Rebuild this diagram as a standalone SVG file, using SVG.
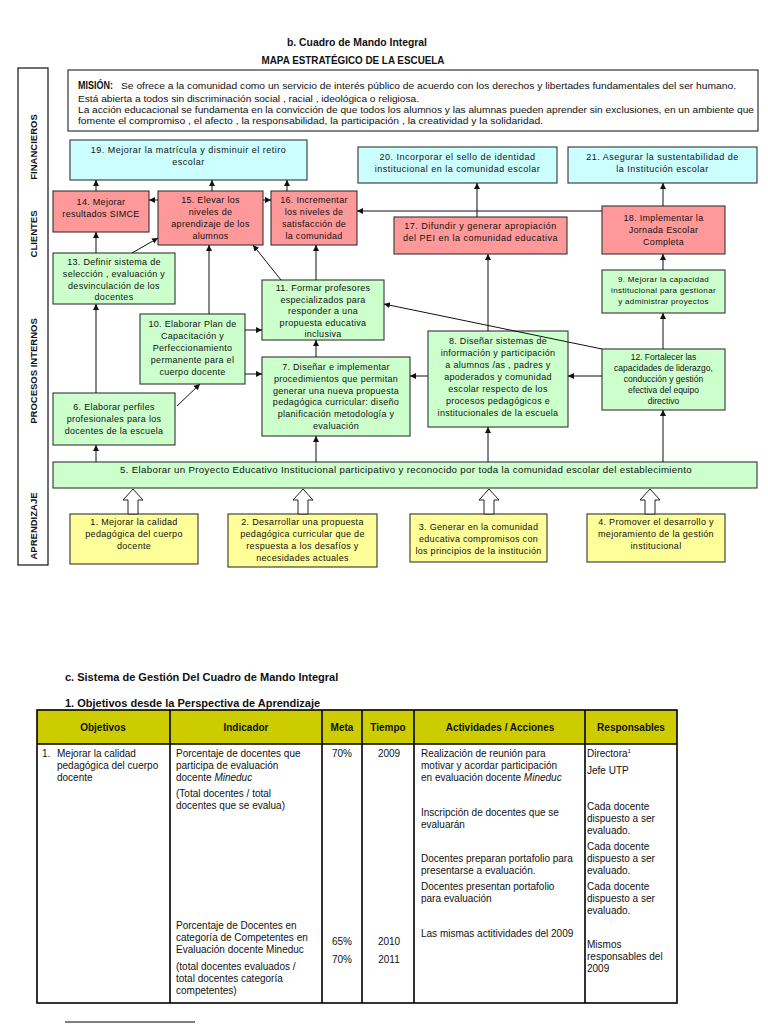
<svg xmlns="http://www.w3.org/2000/svg" width="768" height="1024" viewBox="0 0 768 1024">
<defs>
<style>
text{font-family:"Liberation Sans",Arial,sans-serif;fill:#111}
.t{font-size:9px;letter-spacing:0.3px;text-anchor:middle}
.w{letter-spacing:0.5px}
.s{font-size:8px;letter-spacing:0.35px;text-anchor:middle}
.u{font-size:8.5px;text-anchor:middle}
.h{font-weight:bold;font-size:11px;text-anchor:middle}
.lab{font-weight:bold;font-size:9.5px;text-anchor:middle}
.m{font-size:9.4px}
.tb{font-size:10px}
.th{font-size:10px;font-weight:bold;text-anchor:middle}
.bx{stroke:#333;stroke-width:1.1}
.cy{fill:#ccffff}
.pk{fill:#ff9999}
.gr{fill:#ccffcc}
.ye{fill:#ffff99}
.cn line{stroke:#111;stroke-width:1;marker-end:url(#ah)}
.ha{fill:#fff;stroke:#222;stroke-width:1}
.tl{stroke:#000;stroke-width:1.6;fill:none}
</style>
<marker id="ah" markerUnits="userSpaceOnUse" markerWidth="7" markerHeight="7" refX="6" refY="3" orient="auto">
<path d="M0,0 L6,3 L0,6 z" fill="#111"/>
</marker>
</defs>
<rect width="768" height="1024" fill="#fff"/>

<text class="h" x="357" y="46" textLength="140" lengthAdjust="spacingAndGlyphs">b. Cuadro de Mando Integral</text>
<text class="h" x="353" y="64" textLength="183" lengthAdjust="spacingAndGlyphs">MAPA ESTRATÉGICO DE LA ESCUELA</text>

<g id="perspectivas">
<rect x="18" y="68" width="30" height="497" fill="#fff" stroke="#111" stroke-width="1.2"/>
<text class="lab" transform="translate(37,147) rotate(-90)">FINANCIEROS</text>
<text class="lab" transform="translate(37,234) rotate(-90)">CLIENTES</text>
<text class="lab" transform="translate(37,371) rotate(-90)">PROCESOS INTERNOS</text>
<text class="lab" transform="translate(37,526) rotate(-90)">APRENDIZAJE</text>
</g>

<g id="mision">
<rect x="68" y="70" width="690" height="61" fill="#fff" stroke="#333" stroke-width="1.2"/>
<text x="78" y="89" font-weight="bold" font-size="11.5px" textLength="35" lengthAdjust="spacingAndGlyphs">MISIÓN:</text>
<text class="m" x="121" y="89" textLength="615" lengthAdjust="spacingAndGlyphs">Se ofrece a la comunidad como un servicio de interés público de acuerdo con los derechos y libertades fundamentales del ser humano.</text>
<text class="m" x="78" y="102" textLength="341" lengthAdjust="spacingAndGlyphs">Está abierta a todos sin discriminación social , racial , ideológica o religiosa.</text>
<text class="m" x="78" y="113" textLength="676" lengthAdjust="spacingAndGlyphs">La acción educacional se fundamenta en la convicción de que todos los alumnos y las alumnas pueden aprender sin exclusiones, en un ambiente que</text>
<text class="m" x="78" y="124" textLength="465" lengthAdjust="spacingAndGlyphs">fomente el compromiso , el afecto , la responsabilidad, la participación , la creatividad y la solidaridad.</text>
</g>

<g id="n19"><rect class="bx cy" x="70" y="140" width="237" height="40"/>
<text class="t w" x="188.5" y="153">19. Mejorar la matrícula y disminuir el retiro</text><text class="t w" x="188.5" y="165">escolar</text></g>
<g id="n20"><rect class="bx cy" x="358" y="147" width="199" height="36"/>
<text class="t w" x="457.5" y="160">20. Incorporar el sello de identidad</text><text class="t w" x="457.5" y="172">institucional en la comunidad escolar</text></g>
<g id="n21"><rect class="bx cy" x="568" y="147" width="189" height="36"/>
<text class="t w" x="662.5" y="160">21. Asegurar la sustentabilidad de</text><text class="t w" x="662.5" y="172">la Institución escolar</text></g>

<g id="n14"><rect class="bx pk" x="53" y="191" width="96" height="41"/>
<text class="t" x="101" y="205">14. Mejorar</text><text class="t" x="101" y="217">resultados SIMCE</text></g>
<g id="n15"><rect class="bx pk" x="158" y="191" width="105" height="54"/>
<text class="t" x="210.5" y="203">15. Elevar los</text><text class="t" x="210.5" y="215">niveles de</text><text class="t" x="210.5" y="227">aprendizaje de los</text><text class="t" x="210.5" y="239">alumnos</text></g>
<g id="n16"><rect class="bx pk" x="271" y="191" width="86" height="54"/>
<text class="t" x="314" y="203">16. Incrementar</text><text class="t" x="314" y="215">los niveles de</text><text class="t" x="314" y="227">satisfacción de</text><text class="t" x="314" y="239">la comunidad</text></g>
<g id="n17"><rect class="bx pk" x="394" y="217" width="173" height="37"/>
<text class="t w" x="480.5" y="229">17. Difundir y generar apropiación</text><text class="t w" x="480.5" y="241">del PEI en la comunidad educativa</text></g>
<g id="n18"><rect class="bx pk" x="602" y="206" width="123" height="48"/>
<text class="t" x="663.5" y="221">18. Implementar la</text><text class="t" x="663.5" y="233">Jornada Escolar</text><text class="t" x="663.5" y="245">Completa</text></g>

<g id="n13"><rect class="bx gr" x="53" y="253" width="122" height="51"/>
<text class="t" x="114" y="265">13. Definir sistema de</text><text class="t" x="114" y="277">selección , evaluación y</text><text class="t" x="114" y="289">desvinculación de los</text><text class="t" x="114" y="300">docentes</text></g>
<g id="n11"><rect class="bx gr" x="262" y="280" width="122" height="60"/>
<text class="t" x="323" y="291">11. Formar profesores</text><text class="t" x="323" y="302.5">especializados para</text><text class="t" x="323" y="314">responder a una</text><text class="t" x="323" y="325.5">propuesta educativa</text><text class="t" x="323" y="337">inclusiva</text></g>
<g id="n9"><rect class="bx gr" x="602" y="270" width="123" height="43"/>
<text class="s" x="663.5" y="282">9. Mejorar la capacidad</text><text class="s" x="663.5" y="293">institucional para gestionar</text><text class="s" x="663.5" y="304">y administrar proyectos</text></g>
<g id="n10"><rect class="bx gr" x="140" y="314" width="105" height="70"/>
<text class="t" x="192.5" y="327">10. Elaborar Plan de</text><text class="t" x="192.5" y="339">Capacitación y</text><text class="t" x="192.5" y="351">Perfeccionamiento</text><text class="t" x="192.5" y="363">permanente para el</text><text class="t" x="192.5" y="375">cuerpo docente</text></g>
<g id="n7"><rect class="bx gr" x="262" y="357" width="148" height="79"/>
<text class="t" x="336" y="370">7. Diseñar e implementar</text><text class="t" x="336" y="382">procedimientos que permitan</text><text class="t" x="336" y="393.5">generar una nueva propuesta</text><text class="t" x="336" y="405">pedagógica curricular: diseño</text><text class="t" x="336" y="417">planificación metodología y</text><text class="t" x="336" y="428.5">evaluación</text></g>
<g id="n8"><rect class="bx gr" x="428" y="331" width="140" height="96"/>
<text class="t" x="498" y="344">8. Diseñar sistemas de</text><text class="t" x="498" y="356">información y participación</text><text class="t" x="498" y="368">a alumnos /as , padres y</text><text class="t" x="498" y="380">apoderados y comunidad</text><text class="t" x="498" y="392">escolar respecto de los</text><text class="t" x="498" y="404">procesos pedagógicos e</text><text class="t" x="498" y="416">institucionales de la escuela</text></g>
<g id="n12"><rect class="bx gr" x="602" y="349" width="123" height="61"/>
<text class="u" x="663.5" y="360">12. Fortalecer las</text><text class="u" x="663.5" y="371">capacidades de liderazgo,</text><text class="u" x="663.5" y="382">conducción y gestión</text><text class="u" x="663.5" y="393">efectiva del equipo</text><text class="u" x="663.5" y="404">directivo</text></g>
<g id="n6"><rect class="bx gr" x="53" y="393" width="122" height="52"/>
<text class="t" x="114" y="410">6. Elaborar perfiles</text><text class="t" x="114" y="422">profesionales para los</text><text class="t" x="114" y="434">docentes de la escuela</text></g>
<g id="n5"><rect class="bx gr" x="53" y="462" width="704" height="26"/>
<text class="t" x="406" y="473" textLength="572" lengthAdjust="spacingAndGlyphs">5. Elaborar un Proyecto Educativo Institucional participativo y reconocido por toda la comunidad escolar del establecimiento</text></g>

<g id="n1"><rect class="bx ye" x="70" y="514" width="128" height="50"/>
<text class="t" x="134" y="525">1. Mejorar la calidad</text><text class="t" x="134" y="537">pedagógica del cuerpo</text><text class="t" x="134" y="549">docente</text></g>
<g id="n2"><rect class="bx ye" x="228" y="514" width="149" height="53"/>
<text class="t" x="302.5" y="525">2. Desarrollar una propuesta</text><text class="t" x="302.5" y="537">pedagógica curricular que de</text><text class="t" x="302.5" y="549">respuesta a los desafíos y</text><text class="t" x="302.5" y="561">necesidades actuales</text></g>
<g id="n3"><rect class="bx ye" x="410" y="514" width="137" height="48"/>
<text class="t" x="478.5" y="530">3. Generar en la comunidad</text><text class="t" x="478.5" y="542">educativa compromisos con</text><text class="t" x="478.5" y="554">los principios de la institución</text></g>
<g id="n4"><rect class="bx ye" x="587" y="514" width="138" height="48"/>
<text class="t" x="656" y="525">4. Promover el desarrollo y</text><text class="t" x="656" y="537">mejoramiento de la gestión</text><text class="t" x="656" y="549">institucional</text></g>

<g id="conectores" class="cn">
<line x1="96" y1="191" x2="96" y2="180"/>
<line x1="212" y1="191" x2="212" y2="180"/>
<line x1="287" y1="191" x2="287" y2="180"/>
<line x1="158" y1="200" x2="149" y2="200"/>
<line x1="263" y1="200" x2="271" y2="200"/>
<line x1="602" y1="211" x2="357" y2="211"/>
<line x1="477" y1="217" x2="477" y2="183"/>
<line x1="663" y1="206" x2="663" y2="183"/>
<line x1="96" y1="253" x2="96" y2="232"/>
<line x1="132" y1="253" x2="158" y2="238"/>
<line x1="209" y1="314" x2="209" y2="245"/>
<line x1="281" y1="280" x2="253" y2="245"/>
<line x1="316" y1="280" x2="316" y2="245"/>
<line x1="602" y1="349" x2="384" y2="304"/>
<line x1="488" y1="331" x2="488" y2="254"/>
<line x1="663" y1="270" x2="663" y2="254"/>
<line x1="663" y1="349" x2="663" y2="313"/>
<line x1="602" y1="376" x2="568" y2="376"/>
<line x1="428" y1="376" x2="410" y2="376"/>
<line x1="245" y1="330" x2="262" y2="330"/>
<line x1="245" y1="374" x2="262" y2="374"/>
<line x1="316" y1="357" x2="316" y2="340"/>
<line x1="96" y1="393" x2="96" y2="304"/>
<line x1="177" y1="406" x2="200" y2="384"/>
<line x1="96" y1="462" x2="96" y2="445"/>
<line x1="316" y1="462" x2="316" y2="436"/>
<line x1="488" y1="462" x2="488" y2="427"/>
<line x1="663" y1="462" x2="663" y2="410"/>
</g>
<g id="flechas-huecas">
<polygon class="ha" points="133,489 143,500 138,500 138,514 128,514 128,500 123,500"/>
<polygon class="ha" points="303,489 313,500 308,500 308,514 298,514 298,500 293,500"/>
<polygon class="ha" points="489,489 499,500 494,500 494,514 484,514 484,500 479,500"/>
<polygon class="ha" points="650,489 660,500 655,500 655,514 645,514 645,500 640,500"/>
</g>

<text class="h" x="65" y="681" style="text-anchor:start">c. Sistema de Gestión Del Cuadro de Mando Integral</text>
<text class="h" x="65" y="707" style="text-anchor:start">1. Objetivos desde la Perspectiva de Aprendizaje</text>

<g id="tabla">
<rect x="37" y="710" width="640" height="34" fill="#cccc00"/>
<rect class="tl" x="37" y="710" width="640" height="293"/>
<line class="tl" x1="37" y1="744" x2="677" y2="744"/>
<line class="tl" x1="170" y1="710" x2="170" y2="1003"/>
<line class="tl" x1="322" y1="710" x2="322" y2="1003"/>
<line class="tl" x1="362" y1="710" x2="362" y2="1003"/>
<line class="tl" x1="414" y1="710" x2="414" y2="1003"/>
<line class="tl" x1="585" y1="710" x2="585" y2="1003"/>
<text class="th" x="103" y="731">Objetivos</text>
<text class="th" x="246" y="731">Indicador</text>
<text class="th" x="342" y="731">Meta</text>
<text class="th" x="388" y="731">Tiempo</text>
<text class="th" x="500" y="731">Actividades / Acciones</text>
<text class="th" x="631" y="731">Responsables</text>

<text class="tb" x="42" y="757">1.</text>
<text class="tb" x="57" y="757">Mejorar la calidad</text>
<text class="tb" x="57" y="769">pedagógica del cuerpo</text>
<text class="tb" x="57" y="781">docente</text>

<text class="tb" x="176" y="757">Porcentaje de docentes que</text>
<text class="tb" x="176" y="769">participa de evaluación</text>
<text class="tb" x="176" y="781">docente <tspan font-style="italic">Mineduc</tspan></text>
<text class="tb" x="176" y="797">(Total docentes / total</text>
<text class="tb" x="176" y="809">docentes que se evalua)</text>
<text class="tb" x="176" y="929">Porcentaje de Docentes en</text>
<text class="tb" x="176" y="941">categoría de Competentes en</text>
<text class="tb" x="176" y="953">Evaluación docente Mineduc</text>
<text class="tb" x="176" y="970">(total docentes evaluados /</text>
<text class="tb" x="176" y="982">total docentes categoría</text>
<text class="tb" x="176" y="994">competentes)</text>

<text class="tb" x="342" y="757" text-anchor="middle">70%</text>
<text class="tb" x="342" y="945" text-anchor="middle">65%</text>
<text class="tb" x="342" y="963" text-anchor="middle">70%</text>
<text class="tb" x="389" y="757" text-anchor="middle">2009</text>
<text class="tb" x="389" y="945" text-anchor="middle">2010</text>
<text class="tb" x="389" y="963" text-anchor="middle">2011</text>

<text class="tb" x="421" y="757">Realización de reunión para</text>
<text class="tb" x="421" y="769">motivar y acordar participación</text>
<text class="tb" x="421" y="781">en evaluación docente <tspan font-style="italic">Mineduc</tspan></text>
<text class="tb" x="421" y="816">Inscripción de docentes que se</text>
<text class="tb" x="421" y="828">evaluarán</text>
<text class="tb" x="421" y="862">Docentes preparan portafolio para</text>
<text class="tb" x="421" y="874">presentarse a evaluación.</text>
<text class="tb" x="421" y="890">Docentes presentan portafolio</text>
<text class="tb" x="421" y="902">para evaluación</text>
<text class="tb" x="421" y="937">Las mismas actitividades del 2009</text>

<text class="tb" x="587" y="757">Directora<tspan font-size="6px" dy="-4">1</tspan></text>
<text class="tb" x="587" y="774">Jefe UTP</text>
<text class="tb" x="587" y="810">Cada docente</text>
<text class="tb" x="587" y="822">dispuesto a ser</text>
<text class="tb" x="587" y="834">evaluado.</text>
<text class="tb" x="587" y="850">Cada docente</text>
<text class="tb" x="587" y="862">dispuesto a ser</text>
<text class="tb" x="587" y="874">evaluado.</text>
<text class="tb" x="587" y="890">Cada docente</text>
<text class="tb" x="587" y="902">dispuesto a ser</text>
<text class="tb" x="587" y="914">evaluado.</text>
<text class="tb" x="587" y="948">Mismos</text>
<text class="tb" x="587" y="960">responsables del</text>
<text class="tb" x="587" y="972">2009</text>
</g>
<line x1="65" y1="1022" x2="195" y2="1022" stroke="#000" stroke-width="1"/>
</svg>
